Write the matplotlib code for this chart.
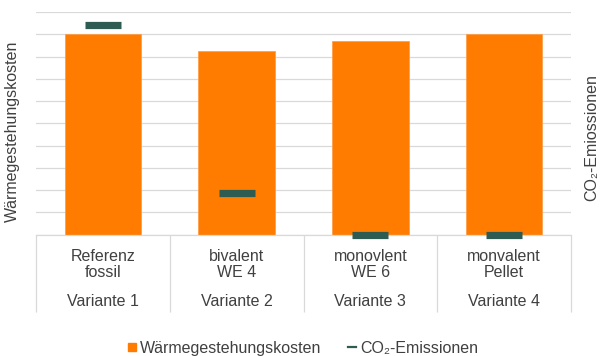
import matplotlib
matplotlib.use("Agg")
import matplotlib.pyplot as plt
from matplotlib.lines import Line2D
import numpy as np

plt.rcParams['font.family'] = ['Liberation Sans', 'DejaVu Sans']

categories = ["Referenz\nfossil", "bivalent\nWE 4", "monovlent\nWE 6", "monvalent\nPellet"]
groups = ["Variante 1", "Variante 2", "Variante 3", "Variante 4"]
kosten = [9.0, 8.27, 8.69, 9.0]
co2 = [9.42, 1.87, 0.0, 0.0]

ORANGE = "#FF7C00"
TEAL = "#2F5C52"
GRID = "#D9D9D9"
TXT = "#404040"
FS = 11.5

W, H = 603, 356
fig = plt.figure(figsize=(W / 100, H / 100), dpi=100)
ax = fig.add_axes([36 / W, 1 - 234.5 / H, 535 / W, (234.5 - 12.2) / H])

x = np.arange(len(categories))
ax.bar(x, kosten, width=0.573, color=ORANGE, edgecolor="#FF9A40", linewidth=0.5, zorder=2)
ax.set_xlim(-0.5, len(categories) - 0.5)
ax.set_ylim(0, 10)
ax.set_yticks(np.arange(0, 11, 1))
ax.yaxis.grid(True, color=GRID, linewidth=0.9)
ax.set_axisbelow(True)
ax.tick_params(axis='y', length=0, labelleft=False)
for s in ['top', 'left', 'right']:
    ax.spines[s].set_visible(False)
ax.spines['bottom'].set_color(GRID)
ax.spines['bottom'].set_linewidth(0.9)

ax.set_xticks(x)
ax.set_xticklabels(categories, fontsize=FS, color=TXT, linespacing=1.08)
ax.tick_params(axis='x', which='major', length=0, pad=10.5)
ax.set_xticks(np.arange(-0.5, len(categories), 1), minor=True)
ax.tick_params(axis='x', which='minor', length=77 * 0.72, width=0.9, color=GRID)

for xi, g in zip(x, groups):
    ax.text(xi, -67.0 / 222.3, g, transform=ax.get_xaxis_transform(),
            ha='center', va='center', fontsize=FS, color=TXT)

ax2 = ax.twinx()
ax2.set_ylim(0, 10)
ax2.set_yticks([])
for s in ax2.spines.values():
    s.set_visible(False)
ax2.plot(x, co2, linestyle='none', marker='_', markersize=26, mew=5.2,
         color=TEAL, clip_on=False, zorder=5)

fig.text(12 / W, 1 - 131 / H, "Wärmegestehungskosten", rotation=90,
         ha='center', va='center', fontsize=FS, color=TXT)
fig.text(592 / W, 1 - 138 / H, "CO₂-Emiossionen", rotation=90,
         ha='center', va='center', fontsize=FS, color=TXT)

handles = [
    Line2D([], [], linestyle='none', marker='s', markersize=5.5, color=ORANGE),
    Line2D([], [], color=TEAL, linewidth=1.6),
]
fig.legend(handles, ["Wärmegestehungskosten", "CO₂-Emissionen"], loc='center',
           bbox_to_anchor=(303 / W, 1 - 348 / H), ncol=2, frameon=False,
           fontsize=FS, labelcolor=TXT, handlelength=0.5, handletextpad=0.25,
           columnspacing=1.7, borderaxespad=0, borderpad=0)

fig.savefig("out.png", dpi=100)
